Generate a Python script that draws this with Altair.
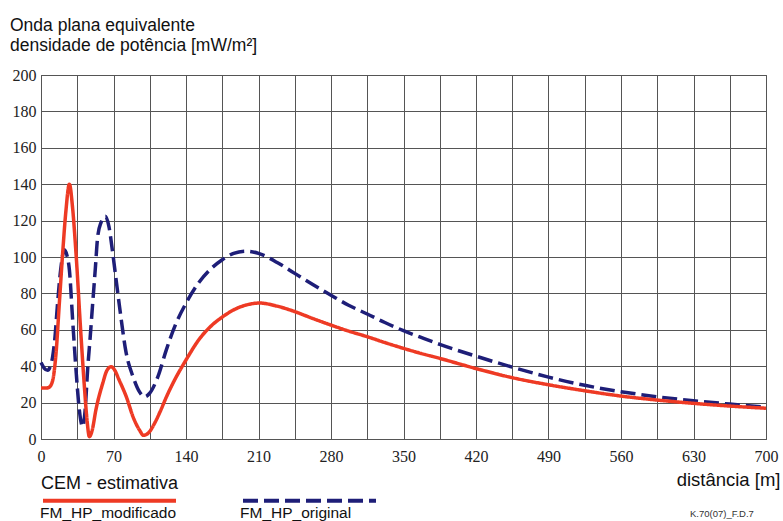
import altair as alt
import pandas as pd

# ---- data ----
red_name = "FM_HP_modificado"
blue_name = "FM_HP_original"

red_x = [0, 5, 8, 11.2, 14.5, 17.7, 20.9, 24, 27.4, 30.5, 33.8, 38.7, 41.9, 44.5, 46.7,
         49.5, 53, 59.6, 63.5, 67.7, 71.5, 75, 82.5, 89, 95, 99, 104, 110, 115, 121, 130,
         140, 153, 165, 175, 188, 198, 211, 228, 245, 262, 280, 297, 315, 332, 350, 367,
         385, 420, 455, 490, 525, 560, 595, 630, 665, 700]
red_y = [28, 28, 28.5, 32, 47, 74.5, 102, 125, 140, 127, 102, 56, 28.7, 10, 1.3,
         5, 16, 30.6, 37.5, 39.7, 37.5, 33, 23, 12, 5, 2, 3.5, 9, 15, 23, 33.5,
         43.4, 55, 62.5, 67, 71.5, 73.6, 74.7, 73, 70, 66.3, 62.6, 59.3, 56.2, 53, 49.8, 47,
         44.3, 38.7, 33.7, 29.8, 26.5, 23.6, 21.4, 19.6, 18.1, 16.9]

blue_x = [0, 3, 6.4, 9, 11.2, 13.5, 16, 19, 22.5, 25, 27.4, 30.6, 33.8, 37, 40.2, 42.5,
          45, 47.5, 49.9, 52.5, 54.7, 58, 62.2, 65.5, 69.3, 72.4, 76, 82, 89, 95, 100,
          104.7, 112.7, 121, 130, 140, 153, 165, 175, 186, 198, 210, 228, 245, 262, 280,
          297, 315, 332, 350, 367, 385, 420, 455, 490, 525, 560, 595, 630, 665, 700]
blue_y = [42, 39, 37.8, 40, 45, 56, 74.5, 93, 104, 101, 93, 65, 38, 16, 6.8, 15,
          38, 56, 74.5, 94, 111, 119, 122.4, 117, 102, 88, 72, 48, 34, 26, 23.2,
          25, 34, 49, 63, 74.6, 86.4, 94, 98.5, 102, 103.2, 102, 97, 91, 85, 79,
          73.5, 68.7, 64, 59.5, 55.8, 52, 45.5, 39.5, 34, 29.5, 26, 23.2, 21, 19.2, 17.5]

x_grid = list(range(0, 701, 35))
y_ticks = list(range(0, 201, 20))

title_lines = ["Onda plana equivalente", "densidade de potência [mW/m²]"]
legend_title = "CEM - estimativa"
x_title = "distância [m]"
code_label = "K.70(07)_F.D.7"

red_color = "#EE3A24"
blue_color = "#1E1E78"
grid_color = "#555555"
serif = "Times New Roman, Liberation Serif, DejaVu Serif, serif"

df = pd.concat([
    pd.DataFrame({"dist": blue_x, "val": blue_y, "serie": blue_name, "ord": 0}),
    pd.DataFrame({"dist": red_x, "val": red_y, "serie": red_name, "ord": 1}),
], ignore_index=True)

x_enc = alt.X(
    "dist:Q",
    scale=alt.Scale(domain=[0, 700], nice=False, zero=False),
    axis=alt.Axis(
        values=x_grid,
        labelExpr="datum.value % 70 === 0 ? datum.label : ''",
        labelOverlap=False,
        labelFlush=False,
        grid=True,
        gridColor=grid_color,
        gridOpacity=1,
        gridWidth=1,
        domainColor=grid_color,
        ticks=False,
        labelFont=serif,
        labelFontSize=16,
        labelColor="#222222",
        labelPadding=9,
        title=x_title,
        titleFont="Liberation Sans",
        titleFontSize=18.5,
        titleFontWeight="normal",
        titleColor="#111111",
        titleAnchor="end",
        titleAlign="right",
        titleBaseline="alphabetic",
        titleX=739,
        titleY=46,
    ),
)

y_enc = alt.Y(
    "val:Q",
    scale=alt.Scale(domain=[0, 200], nice=False, zero=False),
    axis=alt.Axis(
        values=y_ticks,
        grid=True,
        gridColor=grid_color,
        gridOpacity=1,
        gridWidth=1,
        domainColor=grid_color,
        ticks=False,
        labelFont=serif,
        labelFontSize=16,
        labelColor="#222222",
        labelPadding=5,
        title=None,
    ),
)

lines = alt.Chart(df).mark_line(interpolate="monotone", strokeWidth=3.5).encode(
    x=x_enc,
    y=y_enc,
    color=alt.Color(
        "serie:N",
        scale=alt.Scale(domain=[red_name, blue_name], range=[red_color, blue_color]),
        legend=alt.Legend(
            title=legend_title,
            orient="none",
            legendX=0,
            legendY=400,
            direction="horizontal",
            symbolType="stroke",
            symbolSize=17689,
            symbolStrokeWidth=4,
            labelExpr="['', datum.label]",
            labelBaseline="alphabetic",
            labelOffset={"expr": "-138"},
            labelFont="Liberation Sans",
            labelFontSize=15.5,
            labelColor="#111111",
            labelLimit=0,
            columnPadding=51,
            titleFont="Liberation Sans",
            titleFontSize=18,
            titleFontWeight="normal",
            titleColor="#111111",
            titleBaseline="top",
            titlePadding={"expr": "-61"},
            padding=0,
        ),
    ),
    strokeDash=alt.StrokeDash(
        "serie:N",
        scale=alt.Scale(domain=[red_name, blue_name], range=[[1, 0], [15, 6]]),
        legend=None,
    ),
    detail="serie:N",
    order=alt.Order("ord:Q"),
)

code_text = alt.Chart(pd.DataFrame({"t": [code_label]})).mark_text(
    align="left", baseline="alphabetic", font="Liberation Sans", fontSize=9.5, color="#333333"
).encode(text="t:N", x=alt.value(649), y=alt.value(442))

chart = alt.layer(lines, code_text).properties(
    width=725,
    height=364,
    autosize=alt.AutoSizeParams(type="none"),
    padding={"left": 41, "top": 75, "right": 17, "bottom": 82},
    title=alt.TitleParams(
        text=title_lines,
        anchor="start",
        frame="group",
        dx=-31,
        dy=-9,
        font="Liberation Sans",
        fontSize=17.5,
        fontWeight="normal",
        color="#111111",
        lineHeight=20,
    ),
).configure_view(stroke=grid_color, strokeWidth=1)

chart.save("out.html", embed_options={"renderer": "svg", "actions": False})
